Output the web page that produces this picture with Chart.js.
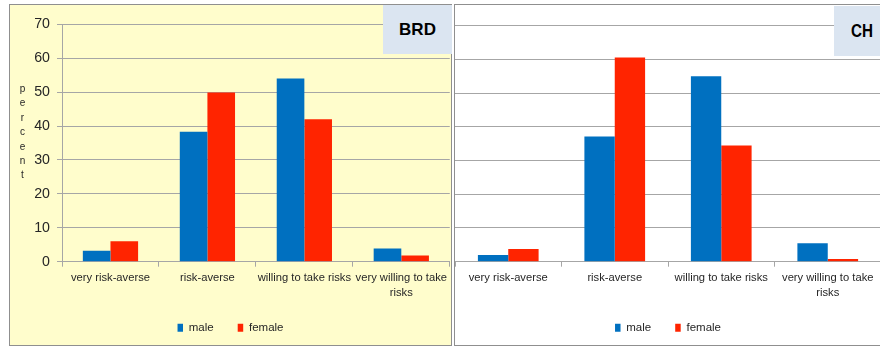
<!DOCTYPE html>
<html>
<head>
<meta charset="utf-8">
<script src="https://cdn.jsdelivr.net/npm/chart.js@4/dist/chart.umd.min.js"></script>
<style>
  html, body { margin: 0; padding: 0; background: #ffffff; }
  body { width: 880px; height: 347px; position: relative; overflow: hidden; }
  .panel { position: absolute; box-sizing: border-box; border: 1px solid #8f8f8f; }
  .wrap { position: absolute; }
  .tag { position: absolute; background: #dbe5f1; color: #000; display: flex; align-items: center; }
  .ylab { position: absolute; writing-mode: vertical-lr; text-orientation: upright;
          font: 10px 'Liberation Sans', sans-serif; letter-spacing: 3.4px; color: #262626; }
</style>
</head>
<body>
  <div class="panel" style="left:9px; top:4px; width:443px; height:342px; background:#fffdcc;"></div>
  <div class="panel" style="left:454px; top:4px; width:440px; height:342px; background:#ffffff;"></div>

  <div class="wrap" style="left:10px; top:5px; width:441px; height:340px;"><canvas id="brdCanvas"></canvas></div>
  <div class="wrap" style="left:455px; top:5px; width:426px; height:340px;"><canvas id="chCanvas"></canvas></div>

  <div class="ylab" style="left:17px; top:83px;">percent</div>
  <div class="tag" style="left:383px; top:5px; width:69px; height:49px; justify-content:center; font:bold 17px 'Liberation Sans', Arial, sans-serif;">BRD</div>
  <div class="tag" style="left:834px; top:6px; width:50px; height:50px; padding-left:17px; box-sizing:border-box; font:bold 19px 'Liberation Sans', Arial, sans-serif;">
    <span style="display:inline-block; transform:scaleX(0.8); transform-origin:left center;">CH</span>
  </div>

<script>
// categories and values (percent)
const categories = ['very risk-averse', 'risk-averse', 'willing to take risks', ['very willing to take', 'risks']];
const seriesNames = ['male', 'female'];
const brdMale = [3.2, 38.3, 54.0, 3.9];
const brdFemale = [6.0, 49.9, 42.0, 1.8];
const chMale = [2.0, 37.1, 55.0, 5.5];
const chFemale = [3.8, 60.6, 34.5, 0.8];
const yMin = 0, yMax = 70, yStep = 10;

const BLUE = '#0070c0';
const RED = '#ff2400';
const GRID = '#a6a6a6';
const FONT = "'Liberation Sans', Arial, sans-serif";

Chart.defaults.font.family = FONT;
Chart.defaults.color = '#262626';

// pins the legend box height so the plot area stays where the reference has it
function legendHeightFix(h) {
  return {
    id: 'legendHeightFix',
    afterInit(chart) {
      const lg = chart.legend;
      const fit = lg.fit.bind(lg);
      lg.fit = function () { fit(); this.height = h; };
    }
  };
}

function makeChart(canvasId, male, female, opts) {
  const ctx = document.getElementById(canvasId).getContext('2d');
  return new Chart(ctx, {
    type: 'bar',
    data: {
      labels: categories,
      datasets: [
        { label: seriesNames[0], data: male, backgroundColor: BLUE, categoryPercentage: 0.57, barPercentage: 1.0 },
        { label: seriesNames[1], data: female, backgroundColor: RED, categoryPercentage: 0.57, barPercentage: 1.0 }
      ]
    },
    options: {
      responsive: true,
      maintainAspectRatio: false,
      animation: false,
      devicePixelRatio: 1,
      layout: { padding: { top: opts.padTop, left: 0, right: 0, bottom: 0 } },
      plugins: {
        tooltip: { enabled: false },
        legend: {
          position: 'bottom',
          labels: {
            boxWidth: 5.5,
            boxHeight: 8,
            padding: 24,
            color: '#262626',
            font: { family: FONT, size: 11.5 }
          }
        }
      },
      scales: {
        x: {
          grid: { drawOnChartArea: false, drawTicks: true, tickLength: 5, color: GRID, offset: true },
          border: { display: true, color: GRID, width: 1 },
          ticks: {
            autoSkip: false,
            maxRotation: 0,
            minRotation: 0,
            padding: 4,
            color: '#262626',
            font: { family: FONT, size: 11.2, lineHeight: 1.34 }
          },
          afterFit(scale) { scale.height = 36.3; }
        },
        y: {
          min: yMin,
          max: yMax,
          grid: { color: GRID, drawTicks: opts.showY, tickLength: 5 },
          border: { display: opts.showY, color: GRID },
          ticks: {
            display: opts.showY,
            stepSize: yStep,
            padding: 7,
            color: '#262626',
            font: { family: FONT, size: 14.2 }
          },
          afterFit(scale) { scale.width = opts.yWidth; }
        }
      }
    },
    plugins: [legendHeightFix(47)]
  });
}

makeChart('brdCanvas', brdMale, brdFemale, { padTop: 19.3, yWidth: 52, showY: true });
makeChart('chCanvas', chMale, chFemale, { padTop: 20.7, yWidth: 0, showY: false });
</script>
</body>
</html>
